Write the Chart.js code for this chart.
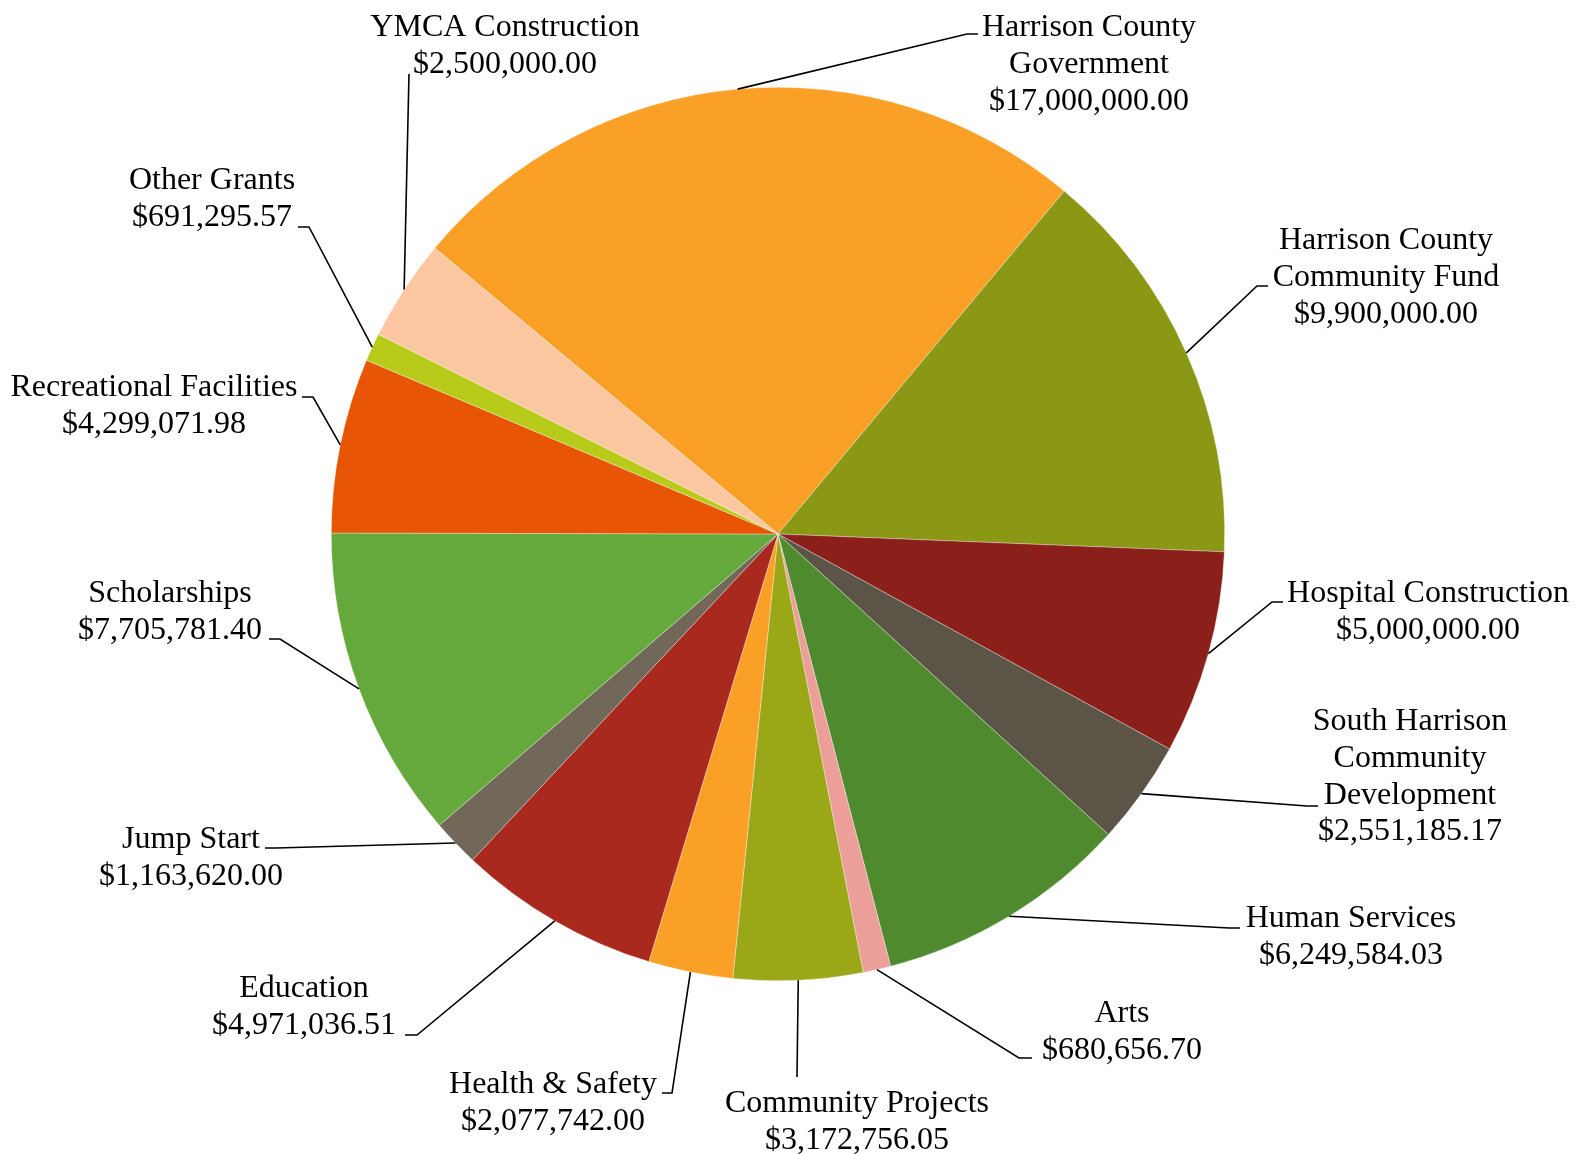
<!DOCTYPE html>
<html>
<head>
<meta charset="utf-8">
<title>Grants by Category</title>
<script src="https://cdn.jsdelivr.net/npm/chart.js@4.4.1/dist/chart.umd.min.js"></script>
<style>
    html, body { margin: 0; padding: 0; background: #ffffff; }
    #wrap { width: 1585px; height: 1154px; position: relative; }
</style>
</head>
<body>
<div id="wrap"><canvas id="grantsPie"></canvas></div>
<script>
// Categories, clockwise from the top slice
const categories = [
    ['Harrison County', 'Government'],
    ['Harrison County', 'Community Fund'],
    'Hospital Construction',
    ['South Harrison', 'Community', 'Development'],
    'Human Services',
    'Arts',
    'Community Projects',
    'Health & Safety',
    'Education',
    'Jump Start',
    'Scholarships',
    'Recreational Facilities',
    'Other Grants',
    'YMCA Construction'
];

const amounts = [
    17000000.00, 9900000.00, 5000000.00, 2551185.17, 6249584.03, 680656.70, 3172756.05,
    2077742.00, 4971036.51, 1163620.00, 7705781.40, 4299071.98, 691295.57, 2500000.00
];

const sliceColors = [
    '#FAA026', '#8B9816', '#8B201A', '#5D5448', '#4F8A2F', '#EC9F99', '#9AA717',
    '#FBA026', '#A9291F', '#726859', '#65A83B', '#E85505', '#B8CA1A', '#FDC8A1'
];

// label placement: text centre x, first baseline, leader path after the slice edge
const labelSpots = [
    { cx: 1089, y: 36,   path: [[967, 34], [978, 34]] },
    { cx: 1386, y: 249,  path: [[1257, 286], [1268, 286]] },
    { cx: 1428, y: 602,  path: [[1272, 602], [1283, 602]] },
    { cx: 1410, y: 730,  path: [[1307, 806], [1318, 806]] },
    { cx: 1351, y: 927,  path: [[1229, 928], [1240, 928]] },
    { cx: 1122, y: 1022, path: [[1019, 1058], [1032, 1058]] },
    { cx: 857,  y: 1112, path: [[797, 1077]] },
    { cx: 553,  y: 1093, path: [[672, 1093], [662, 1093]] },
    { cx: 304,  y: 997,  path: [[417, 1035], [405, 1035]] },
    { cx: 191,  y: 848,  path: [[276, 848], [265, 848]] },
    { cx: 170,  y: 602,  path: [[280, 639], [269, 639]] },
    { cx: 154,  y: 396,  path: [[313, 397], [302, 397]] },
    { cx: 212,  y: 189,  path: [[309, 227], [298, 227]] },
    { cx: 505,  y: 36,   path: [[409, 74]] }
];

const LINE_H = 36.8;
const FONT = '32px "Liberation Serif", "Times New Roman", serif';

function money(v) {
    return '$' + v.toLocaleString('en-US', { minimumFractionDigits: 2, maximumFractionDigits: 2 });
}

const calloutPlugin = {
    id: 'callouts',
    afterDatasetsDraw(chart) {
        const ctx = chart.ctx;
        const arcs = chart.getDatasetMeta(0).data;
        ctx.save();
        arcs.forEach((arc, i) => {
            const p = arc.getProps(['x', 'y', 'startAngle', 'endAngle', 'outerRadius'], true);
            const mid = (p.startAngle + p.endAngle) / 2;
            const spot = labelSpots[i];

            // leader line
            ctx.beginPath();
            ctx.moveTo(p.x + Math.cos(mid) * p.outerRadius, p.y + Math.sin(mid) * p.outerRadius);
            spot.path.forEach(pt => ctx.lineTo(pt[0], pt[1]));
            ctx.strokeStyle = '#000000';
            ctx.lineWidth = 1.6;
            ctx.stroke();

            // text
            const name = chart.data.labels[i];
            const lines = (Array.isArray(name) ? name.slice() : [name]);
            lines.push(money(chart.data.datasets[0].data[i]));
            ctx.font = FONT;
            ctx.fillStyle = '#000000';
            ctx.textAlign = 'center';
            ctx.textBaseline = 'alphabetic';
            lines.forEach((t, k) => ctx.fillText(t, spot.cx, spot.y + k * LINE_H));
        });
        ctx.restore();
    }
};

new Chart(document.getElementById('grantsPie'), {
    type: 'pie',
    data: {
        labels: categories,
        datasets: [{
            data: amounts,
            backgroundColor: sliceColors,
            borderColor: 'rgba(255,255,255,0.55)',
            borderWidth: 0.6
        }]
    },
    options: {
        responsive: true,
        maintainAspectRatio: false,
        animation: false,
        rotation: -50.2,
        layout: {
            padding: { top: 87, bottom: 173, left: 331, right: 360 }
        },
        plugins: {
            legend: { display: false },
            tooltip: { enabled: false }
        }
    },
    plugins: [calloutPlugin]
});
</script>
</body>
</html>
